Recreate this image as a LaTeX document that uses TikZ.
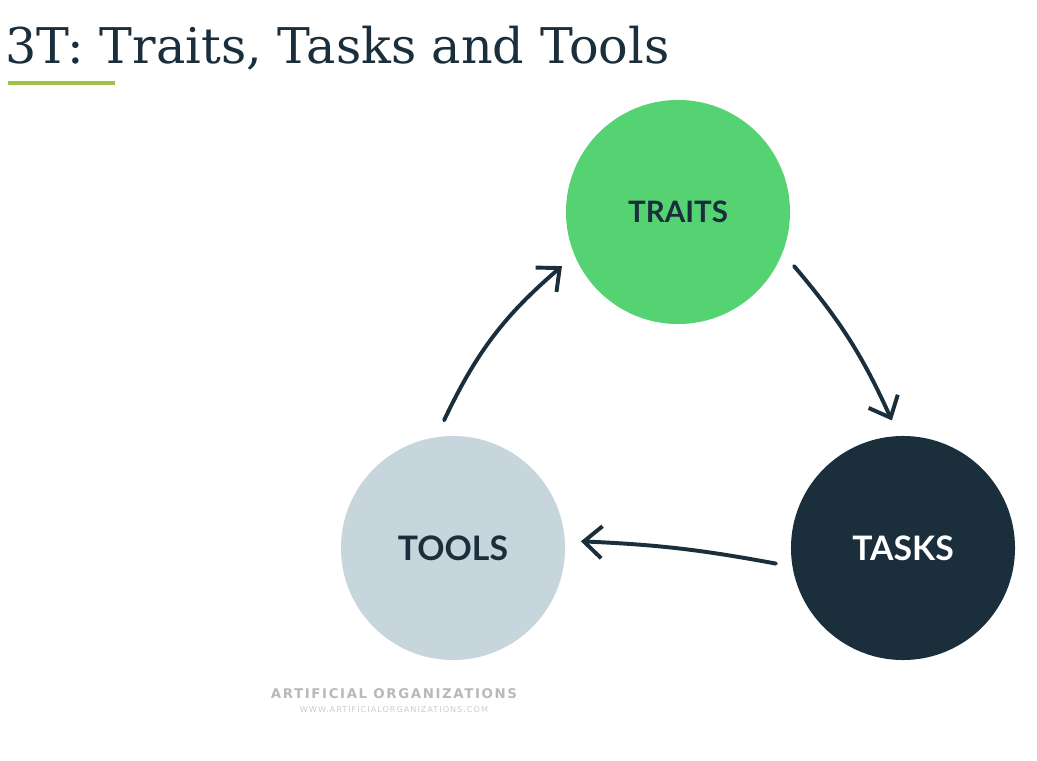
\documentclass[tikz,border=0pt]{standalone}
\usepackage{fontspec}
\setmainfont{DejaVu Serif}
\newfontfamily\labelfont{Lato}
\newfontfamily\brandfont[LetterSpace=12]{DejaVu Sans}
\usetikzlibrary{arrows.meta,positioning}
\definecolor{aogreen}{HTML}{55D373}
\definecolor{aonavy}{HTML}{1A2E3B}
\definecolor{aogray}{HTML}{C7D5DC}
\definecolor{aoline}{HTML}{9CC24A}
\begin{document}
\begin{tikzpicture}[x=0.025cm,y=-0.025cm,
  bubble/.style={circle, minimum size=5.6cm, inner sep=0pt, outer sep=0.4cm,
    font=\labelfont\bfseries\fontsize{24}{24}\selectfont},
  flow/.style={line width=2.8pt, draw=aonavy, line cap=round,
    -{Straight Barb[length=0.45cm,width=0.8cm,line width=2.8pt]}}]
\useasboundingbox (0,0) rectangle (1037,761);
% title
\node[anchor=base west, inner sep=0pt, text=aonavy, font=\fontsize{35}{35}\selectfont] (title) at (5,64) {3T: Traits, Tasks and Tools};
\draw[aoline, line width=2.2pt] (8,83) -- (115,83);
% the three circles
\node[bubble, fill=aogreen, text=aonavy, font=\labelfont\bfseries\fontsize{21}{21}\selectfont] (traits) at (678,212) {TRAITS};
\node[bubble, fill=aonavy, text=white] (tasks) at (903,548) {TASKS};
\node[bubble, fill=aogray, text=aonavy] (tools) at (453,548) {TOOLS};
% cycle arrows
\draw[flow] (tools.94) to[bend left=12] (traits.205);
\draw[flow] (traits.-25) to[bend left=8] (tasks.95);
\draw[flow] (tasks.187) to[bend right=4] (tools.3);
% footer
\node[text=gray!55, font=\brandfont\bfseries\fontsize{9.5}{9.5}\selectfont, inner sep=0pt] (brand) at (394,694) {ARTIFICIAL ORGANIZATIONS};
\node[below=5pt of brand, text=gray!40, font=\brandfont\fontsize{5.8}{5.8}\selectfont, inner sep=0pt] (web) {WWW.ARTIFICIALORGANIZATIONS.COM};
\end{tikzpicture}
\end{document}
